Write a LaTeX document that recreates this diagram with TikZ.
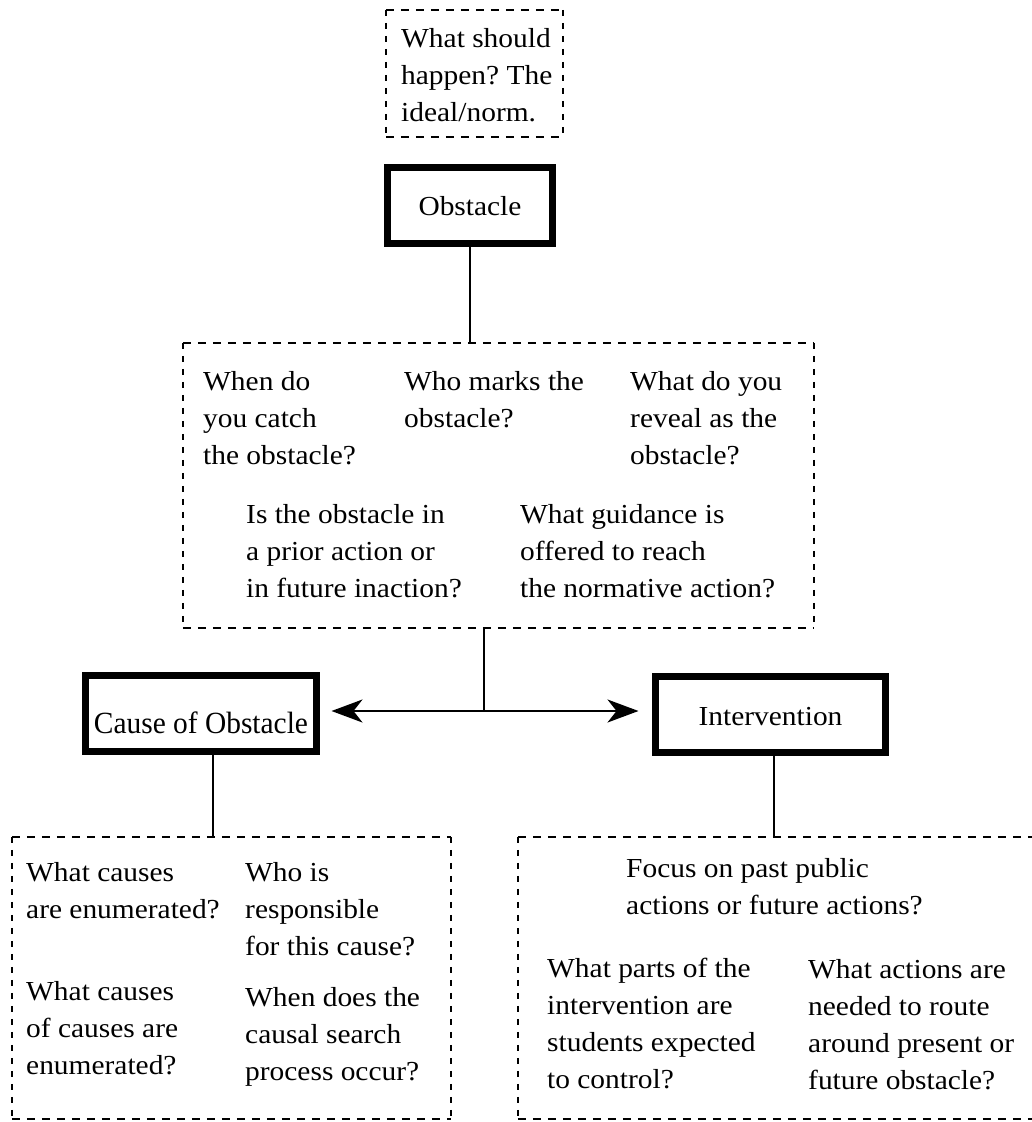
\documentclass[tikz,border=0pt]{standalone}
\usepackage{graphicx}
\usepackage{fontspec}
\setmainfont{Liberation Serif}[FakeStretch=1.07]
\usetikzlibrary{arrows.meta}
\newcommand\qstrut{\rule{0pt}{20pt}}
\newcommand\dashedframe[1]{%
  \draw[hdash] (#1.north west) -- (#1.north east) (#1.south west) -- (#1.south east);
  \draw[vdash] (#1.north west) -- (#1.south west) (#1.north east) -- (#1.south east);}
\frenchspacing
\begin{document}
\begin{tikzpicture}[x=1pt,y=-1pt,
  every node/.style={font=\fontsize{27.5}{37}\selectfont\frenchspacing},
  frame/.style={draw=none, inner sep=0pt, rectangle},
  thickbox/.style={draw, line width=7pt, inner sep=0pt, align=center, text depth=6pt},
  qtext/.style={anchor=north west, inner sep=0pt, align=left},
  hdash/.style={line width=2pt, dash pattern=on 8pt off 7pt},
  vdash/.style={line width=2pt, dash pattern=on 6pt off 7pt},
  conn/.style={line width=1.5pt},
  arr/.style={line width=2pt, -{Stealth[length=31pt,width=23pt,inset=9pt]}}
]
\useasboundingbox[fill=white] (0,0) rectangle (1032,1122);
\begin{scope}
\clip (0,0) rectangle (1032,1122);

% dashed frames
\node[frame, minimum width=177pt, minimum height=127pt] (top) at (474.5,73.5) {};
\node[frame, minimum width=631pt, minimum height=285pt] (mid) at (498.5,485.5) {};
\node[frame, minimum width=439pt, minimum height=282pt] (bl) at (231.5,978) {};
\node[frame, minimum width=527pt, minimum height=282pt] (br) at (781.5,978) {};
\dashedframe{top}
\dashedframe{mid}
\dashedframe{bl}
\dashedframe{br}

% thick boxes
\node[thickbox, minimum width=165pt, minimum height=76pt, text height=25pt] (obst) at (470,205.5) {Obstacle};
\node[thickbox, minimum width=231pt, minimum height=76pt, text height=45pt] (cause) at (201,713.5) {\scalebox{1}[1.12]{Cause of Obstacle}};
\node[thickbox, minimum width=230pt, minimum height=76pt, text height=27pt] (interv) at (770.5,714.5) {Intervention};

% texts
\node[qtext] (t1) at (401,27) {\qstrut What should\\happen? The\\ideal/norm.};

\node[qtext] (m1) at (203,370) {\qstrut When do\\you catch\\the obstacle?};
\node[qtext] (m2) at (404,370) {\qstrut Who marks the\\obstacle?};
\node[qtext] (m3) at (630,370) {\qstrut What do you\\reveal as the\\obstacle?};
\node[qtext] (m4) at (246,503) {\qstrut Is the obstacle in\\a prior action or\\in future inaction?};
\node[qtext] (m5) at (520,503) {\qstrut What guidance is\\offered to reach\\the normative action?};

\node[qtext] (b1) at (26,861) {\qstrut What causes\\are enumerated?};
\node[qtext] (b2) at (245,861) {\qstrut Who is\\responsible\\for this cause?};
\node[qtext] (b3) at (26,980) {\qstrut What causes\\of causes are\\enumerated?};
\node[qtext] (b4) at (245,986) {\qstrut When does the\\causal search\\process occur?};

\node[qtext] (r1) at (626,857) {\qstrut Focus on past public\\actions or future actions?};
\node[qtext] (r2) at (547,957) {\qstrut What parts of the\\intervention are\\students expected\\to control?};
\node[qtext] (r3) at (808,958) {\qstrut What actions are\\needed to route\\around present or\\future obstacle?};

% connectors
\coordinate (split) at (484,711);
\draw[conn] (obst.south) -- (obst.south |- mid.north);
\draw[conn] (mid.south -| split) -- (split);
\draw[arr, shorten >=11.5pt] (split) -- (split -| cause.east);
\draw[arr, shorten >=13.5pt] (split) -- (split -| interv.west);
\draw[conn] ([xshift=12pt]cause.south) -- ([xshift=12pt]cause.south |- bl.north);
\draw[conn] ([xshift=3.5pt]interv.south) -- ([xshift=3.5pt]interv.south |- br.north);
\end{scope}
\end{tikzpicture}
\end{document}
